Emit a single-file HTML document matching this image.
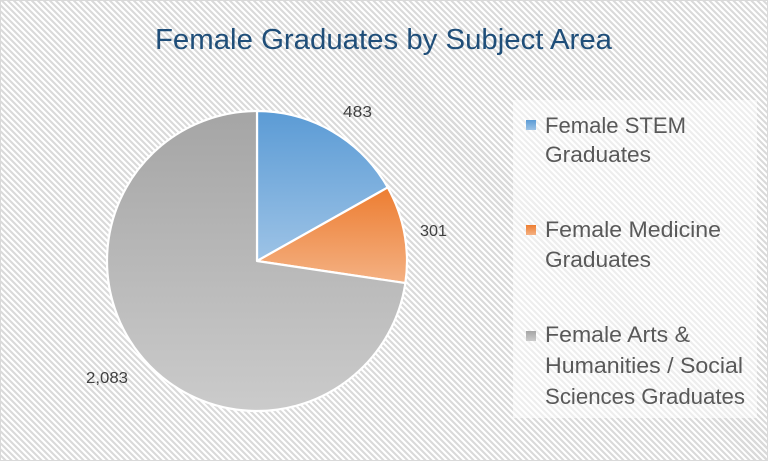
<!DOCTYPE html>
<html><head><meta charset="utf-8"><style>
html,body{margin:0;padding:0;}
body{width:768px;height:461px;overflow:hidden;}
.bg{position:absolute;left:0;top:0;width:768px;height:461px;box-sizing:border-box;border:1px solid #d9d9d9;
background:repeating-linear-gradient(45deg,#ffffff 0px,#ffffff 2.1px,#dadada 2.1px,#dadada 4.24px);}
svg{position:absolute;left:0;top:0;}
</style></head><body>
<div class="bg"></div>
<svg width="768" height="461" viewBox="0 0 768 461" xmlns="http://www.w3.org/2000/svg">
<defs>
<linearGradient id="gb" x1="0" y1="0" x2="0" y2="1"><stop offset="0" stop-color="#5B9BD5"/><stop offset="1" stop-color="#9DC3E6"/></linearGradient>
<linearGradient id="go" x1="0" y1="0" x2="0" y2="1"><stop offset="0" stop-color="#ED7D31"/><stop offset="1" stop-color="#F4B183"/></linearGradient>
<linearGradient id="gg" x1="0" y1="0" x2="0" y2="1"><stop offset="0" stop-color="#A5A5A5"/><stop offset="1" stop-color="#CBCBCB"/></linearGradient>
</defs>
<rect x="513" y="100" width="244" height="318" fill="#ffffff" fill-opacity="0.55"/>
<text x="155" y="49" font-family="Liberation Sans, sans-serif" font-size="29" fill="#1F4E79" textLength="457" lengthAdjust="spacingAndGlyphs">Female Graduates by Subject Area</text>
<g stroke="#ffffff" stroke-width="2.2" stroke-linejoin="round">
<path d="M257,261 L257,111 A150,150 0 0 1 387.74,187.47 Z" fill="url(#gb)"/>
<path d="M257,261 L387.74,187.47 A150,150 0 0 1 405.37,283.05 Z" fill="url(#go)"/>
<path d="M257,261 L405.37,283.05 A150,150 0 1 1 257,111 Z" fill="url(#gg)"/>
</g>
<g font-family="Liberation Sans, sans-serif" font-size="16" fill="#404040">
<text x="343" y="117" textLength="29" lengthAdjust="spacingAndGlyphs">483</text>
<text x="420" y="236" textLength="27" lengthAdjust="spacingAndGlyphs">301</text>
<text x="86" y="383" textLength="42" lengthAdjust="spacingAndGlyphs">2,083</text>
</g>
<rect x="526" y="120" width="10" height="10" fill="url(#gb)"/>
<rect x="526" y="225" width="10" height="10" fill="url(#go)"/>
<rect x="526" y="331" width="10" height="10" fill="url(#gg)"/>
<g font-family="Liberation Sans, sans-serif" font-size="22" fill="#595959">
<text x="545" y="133" textLength="141" lengthAdjust="spacingAndGlyphs">Female STEM</text>
<text x="545" y="162" textLength="106" lengthAdjust="spacingAndGlyphs">Graduates</text>
<text x="545" y="237" textLength="176" lengthAdjust="spacingAndGlyphs">Female Medicine</text>
<text x="545" y="267" textLength="106" lengthAdjust="spacingAndGlyphs">Graduates</text>
<text x="545" y="342" textLength="145" lengthAdjust="spacingAndGlyphs">Female Arts &amp;</text>
<text x="545" y="373" textLength="198" lengthAdjust="spacingAndGlyphs">Humanities / Social</text>
<text x="545" y="404" textLength="200" lengthAdjust="spacingAndGlyphs">Sciences Graduates</text>
</g>
</svg>
</body></html>
